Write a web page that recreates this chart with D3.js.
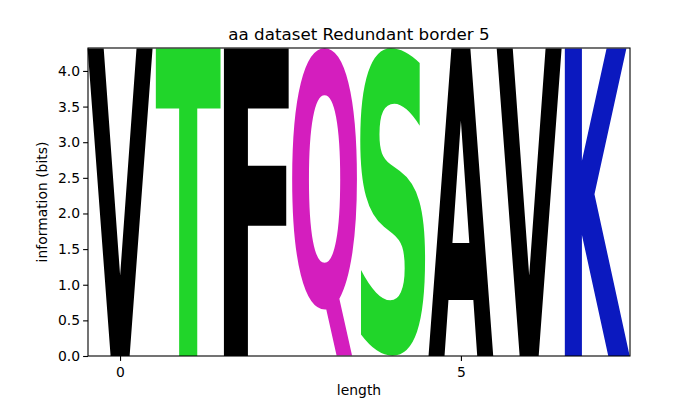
<!DOCTYPE html>
<html>
<head>
<meta charset="utf-8">
<script src="https://cdn.jsdelivr.net/npm/d3@7"></script>
<style>
  body { margin: 0; background: #fff; }
  text { font-family: "DejaVu Sans", sans-serif; }
</style>
</head>
<body>
<div id="chart"></div>
<script>
// logo data
var positions = [0, 1, 2, 3, 4, 5, 6, 7];
var letters = ["V", "T", "F", "Q", "S", "A", "V", "K"];
var heights = [4.32, 4.32, 4.32, 4.32, 4.32, 4.32, 4.32, 4.32];
var yTicks = [0, 0.5, 1, 1.5, 2, 2.5, 3, 3.5, 4];
var xTicks = [0, 5];

// chemistry colours
var colorOf = {
  V: "#000000", F: "#000000", A: "#000000",
  T: "#21d52a", S: "#21d52a",
  Q: "#d41ebe",
  K: "#0b19bf"
};

var margin = {top: 48, right: 70, bottom: 44, left: 88},
  width = 700 - margin.left - margin.right,
  height = 400 - margin.top - margin.bottom;

var x = d3.scaleLinear().domain([-0.47, 7.48]).range([0, width]);
var y = d3.scaleLinear().domain([0, Math.log2(20)]).range([height, 0]);

var svg = d3.select("#chart").append("svg")
  .attr("width", 700)
  .attr("height", 400);

var g = svg.append("g")
  .attr("transform", "translate(" + margin.left + "," + margin.top + ")");

// find the ink box of a glyph by drawing it on a canvas and scanning pixels
var fontSize = 400;
function inkBox(ch) {
  var c = document.createElement("canvas");
  c.width = 700; c.height = 700;
  var ctx = c.getContext("2d");
  ctx.font = "bold " + fontSize + "px 'DejaVu Sans'";
  ctx.textBaseline = "alphabetic";
  ctx.fillStyle = "#000";
  ctx.fillText(ch, 150, 500);
  var px = ctx.getImageData(0, 0, c.width, c.height).data;
  var minX = c.width, maxX = -1, minY = c.height, maxY = -1;
  for (var j = 0; j < c.height; j++) {
    for (var i = 0; i < c.width; i++) {
      if (px[(j * c.width + i) * 4 + 3] > 100) {
        if (i < minX) minX = i;
        if (i > maxX) maxX = i;
        if (j < minY) minY = j;
        if (j > maxY) maxY = j;
      }
    }
  }
  return {left: minX - 150, right: maxX + 1 - 150, top: minY - 500, bottom: maxY + 1 - 500};
}

var glyphs = g.append("g");
var letterWidth = 0.95;

letters.forEach(function(ch, i) {
  var b = inkBox(ch);
  var x0 = x(positions[i] - letterWidth / 2),
    x1 = x(positions[i] + letterWidth / 2),
    y0 = y(heights[i]),
    y1 = y(0);
  var sx = (x1 - x0) / (b.right - b.left), sy = (y1 - y0) / (b.bottom - b.top);
  glyphs.append("text")
    .attr("transform", "translate(" + x0 + "," + y0 + ") scale(" + sx + "," + sy + ") translate(" +
      (-b.left) + "," + (-b.top) + ")")
    .style("font-size", fontSize + "px")
    .style("font-weight", "bold")
    .attr("fill", colorOf[ch])
    .text(ch);
});

// axes
var xAxis = g.append("g")
  .attr("transform", "translate(0," + height + ")")
  .call(d3.axisBottom(x).tickValues(xTicks).tickFormat(d3.format("d")).tickSize(4.9).tickSizeOuter(0));
var yAxis = g.append("g")
  .call(d3.axisLeft(y).tickValues(yTicks).tickFormat(d3.format(".1f")).tickSize(4.9).tickSizeOuter(0));

[xAxis, yAxis].forEach(function(a) {
  a.select(".domain").remove();
  a.selectAll("text").style("font-size", "13.9px").attr("fill", "#000");
  a.selectAll("line").attr("stroke", "#000").attr("stroke-width", 1.1);
});
xAxis.selectAll("text").attr("dy", "0.95em");
yAxis.selectAll("text").attr("x", -8);

// frame
g.append("rect")
  .attr("width", width).attr("height", height)
  .attr("fill", "none").attr("stroke", "#000").attr("stroke-width", 1.1);

// labels
svg.append("text")
  .attr("x", margin.left + width / 2).attr("y", 40)
  .attr("text-anchor", "middle")
  .style("font-size", "16.7px")
  .text("aa dataset Redundant border 5");

svg.append("text")
  .attr("x", margin.left + width / 2).attr("y", 395)
  .attr("text-anchor", "middle")
  .style("font-size", "13.9px")
  .text("length");

svg.append("text")
  .attr("transform", "translate(47," + (margin.top + height / 2) + ") rotate(-90)")
  .attr("text-anchor", "middle")
  .style("font-size", "13.9px")
  .text("information (bits)");
</script>
</body>
</html>
